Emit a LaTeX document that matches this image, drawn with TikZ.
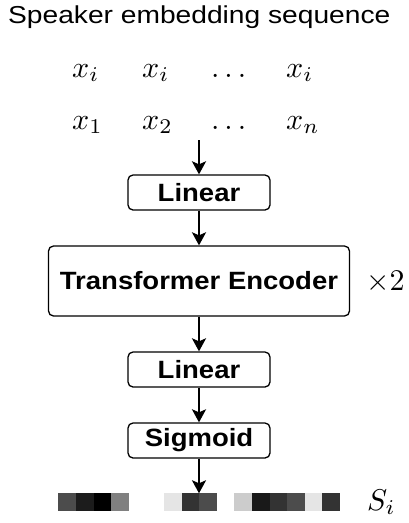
\documentclass[tikz,border=0pt]{standalone}
\usepackage{graphicx}
\usepackage{fontspec}
\setmainfont{Liberation Sans}
\usetikzlibrary{arrows.meta}
\newcommand\lbltext[1]{\scalebox{1.1}[1]{\fontsize{25}{30}\selectfont\bfseries #1}}
\newcommand\titletext[1]{\scalebox{1.15}[1]{\fontsize{24.5}{29}\selectfont #1}}
\newcommand\mth[1]{\scalebox{3}{$#1$}}
\tikzset{
  blk/.style={draw, line width=1.3pt, rounded corners=5pt, inner sep=0pt, minimum height=35pt, minimum width=142pt},
  arr/.style={line width=2.2pt, -{Stealth[length=13pt,width=14pt,inset=3pt]}},
  sq/.style={minimum size=17.6pt, inner sep=0pt, outer sep=0pt, anchor=north west},
  mt/.style={inner sep=0pt, anchor=base west},
}
\begin{document}
\begin{tikzpicture}[x=1pt,y=1pt]
\useasboundingbox (0,0) rectangle (409,-523);
% title
\node[mt] (title) at (8,-23.5) {\titletext{Speaker embedding sequence}};
% input rows
\node[mt] (a1) at (72,-77) {\mth{x_i}};
\node[mt] (a2) at (142,-77) {\mth{x_i}};
\node[mt] (a3) at (211,-77) {\mth{\dots}};
\node[mt] (a4) at (286,-77) {\mth{x_i}};
\node[mt] (b1) at (72,-129) {\mth{x_1}};
\node[mt] (b2) at (142,-129) {\mth{x_2}};
\node[mt] (b3) at (211,-129) {\mth{\dots}};
\node[mt] (b4) at (286,-129) {\mth{x_n}};
\coordinate (in) at (199,-140);
% blocks
\node[blk] (lin1) at (199,-192.5) {\lbltext{Linear}};
\node[blk, minimum width=301pt, minimum height=70pt] (enc) at (199,-281) {\lbltext{Transformer Encoder}};
\node[mt] (times) at (366,-290) {\mth{\times 2}};
\node[blk] (lin2) at (199,-369.5) {\lbltext{Linear}};
\node[blk] (sig) at (199,-440.5) {\lbltext{Sigmoid}};
% output squares
\foreach \k/\c in {0/black!70,1/black!89,2/black,3/black!50,
                   6/black!10,7/black!80,8/black!70,
                   10/black!20,11/black!90,12/black!80,13/black!70,14/black!10,15/black!80}
  \node[sq, fill=\c] (s\k) at ({58.3+\k*17.6},-493.3) {};
\node[mt] (si) at (367,-510) {\mth{S_i}};
% arrows
\draw[arr] (in) -- (lin1);
\draw[arr] (lin1) -- (enc);
\draw[arr] (enc) -- (lin2);
\draw[arr] (lin2) -- (sig);
\draw[arr] (sig.south) -- (sig.south |- s7.north east);
\end{tikzpicture}
\end{document}
